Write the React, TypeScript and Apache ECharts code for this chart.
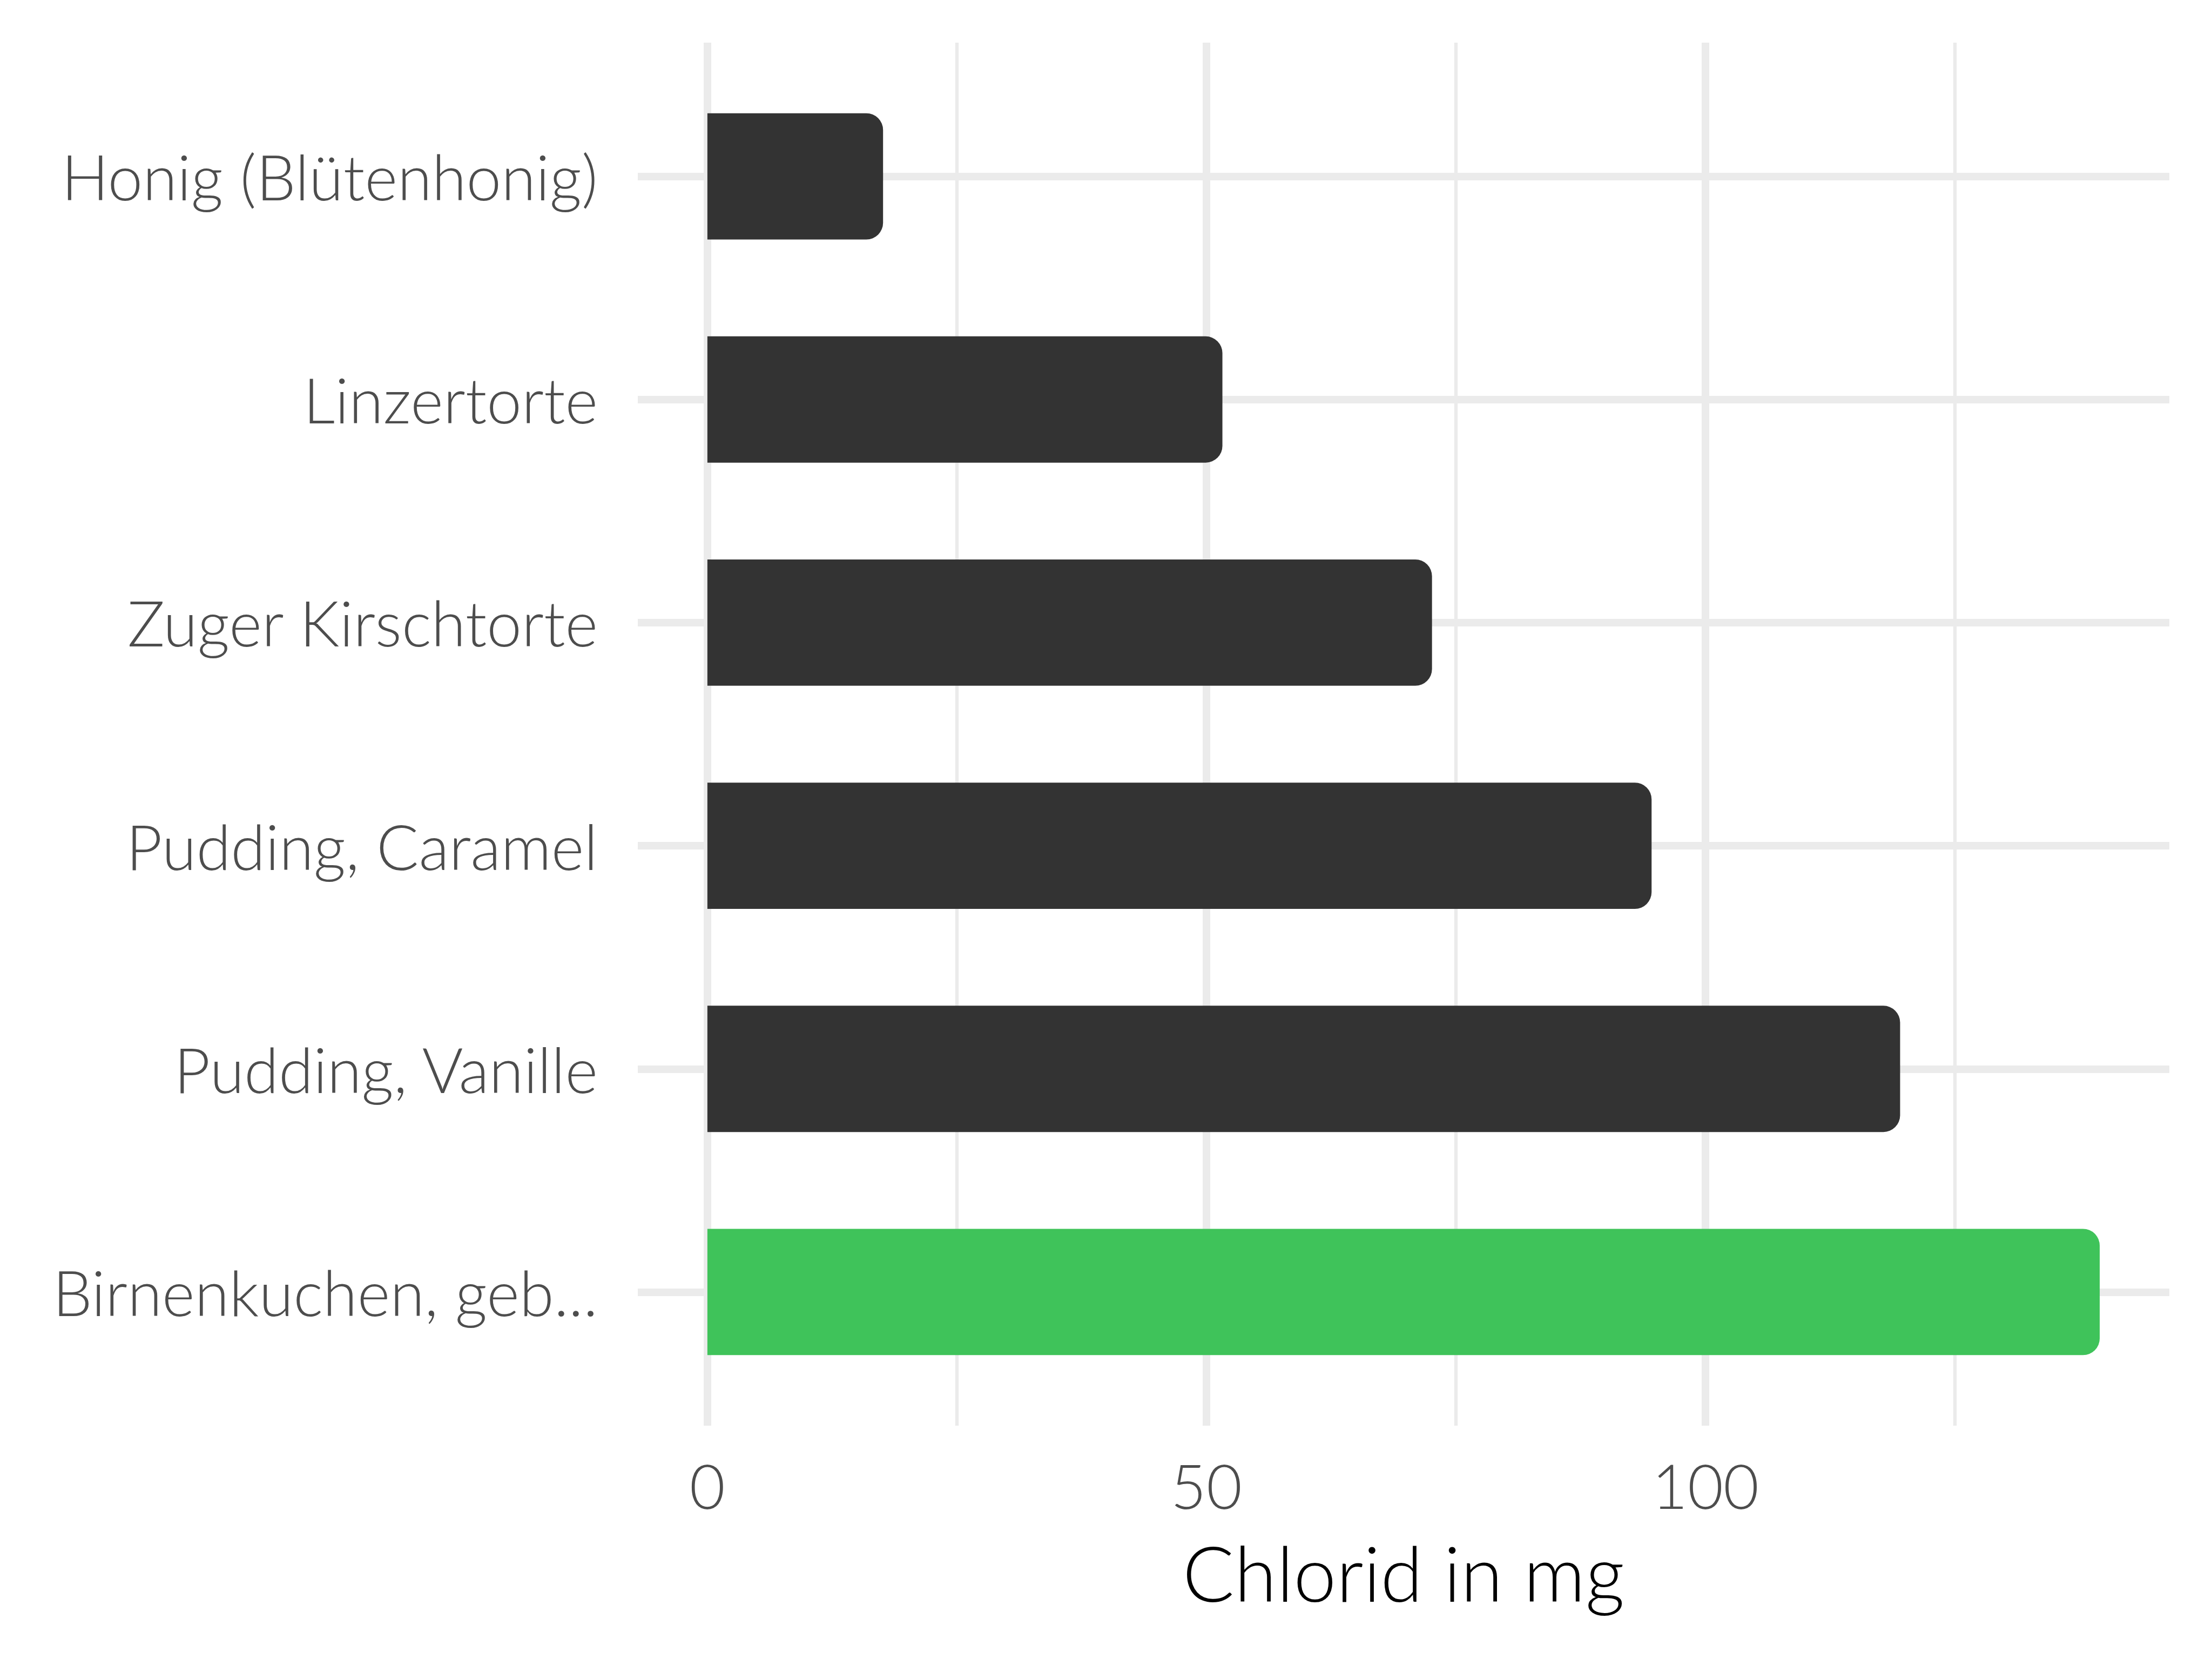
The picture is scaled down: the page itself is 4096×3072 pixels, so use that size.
import React, { useEffect, useRef } from "react";
import * as echarts from "echarts";

const categories = [
  "Honig (Blütenhonig)",
  "Linzertorte",
  "Zuger Kirschtorte",
  "Pudding, Caramel",
  "Pudding, Vanille",
  "Birnenkuchen, geb...",
];
const values = [17.6, 51.6, 72.6, 94.6, 119.5, 139.5];
const highlightIndex = 5;
const majorTicks = [0, 50, 100];
const minorTicks = [25, 75, 125];
const xMin = -6.975;
const xMax = 146.475;
const axisTitle = "Chlorid in mg";

const DARK = "#333333";
const GREEN = "#3fc35a";
const GRID = "#ebebeb";
const FONT = "Lato";

export default function App() {
  const ref = useRef<HTMLDivElement>(null);
  useEffect(() => {
    if (!ref.current) return;
    const chart = echarts.init(ref.current, null, { renderer: "svg" });
    const lineStyleMajor = { color: GRID, width: 14, type: "solid" as const };
    const lineStyleMinor = { color: GRID, width: 6.4, type: "solid" as const };
    const verticalLines = [
      ...minorTicks.map((v) => ({ xAxis: v, lineStyle: lineStyleMinor })),
      ...majorTicks.map((v) => ({ xAxis: v, lineStyle: lineStyleMajor })),
    ];
    const horizontalLines = categories.map((c) => ({ yAxis: c, lineStyle: lineStyleMajor }));
    chart.setOption({
      animation: false,
      backgroundColor: "#ffffff",
      grid: [
        { left: 1181, right: 79, top: 120, bottom: 473, containLabel: false },
        { left: 1181, right: 79, top: 79, bottom: 432, containLabel: false },
      ],
      xAxis: [
        {
          type: "value",
          gridIndex: 0,
          min: xMin,
          max: xMax,
          splitLine: { show: false },
          axisLine: { show: false },
          axisTick: { show: false },
          axisLabel: { show: false },
        },
        {
          type: "value",
          gridIndex: 1,
          min: xMin,
          max: xMax,
          splitLine: { show: false },
          axisLine: { show: false },
          axisTick: { show: false },
          axisLabel: {
            customValues: majorTicks,
            color: "#4d4d4d",
            fontFamily: FONT,
            fontWeight: 300,
            fontSize: 114,
            margin: 52,
          },
          name: axisTitle,
          nameLocation: "middle",
          nameGap: 200,
          nameTextStyle: { color: "#000000", fontFamily: FONT, fontWeight: 300, fontSize: 142 },
        },
      ],
      yAxis: [
        {
          type: "category",
          gridIndex: 0,
          data: categories,
          inverse: true,
          axisLine: { show: false },
          axisTick: { show: false },
          splitLine: { show: false },
          axisLabel: {
            color: "#4d4d4d",
            fontFamily: FONT,
            fontWeight: 300,
            fontSize: 116,
            margin: 74,
          },
        },
        {
          type: "value",
          gridIndex: 1,
          min: 0,
          max: 1,
          show: false,
          splitLine: { show: false },
        },
      ],
      series: [
        {
          type: "line",
          xAxisIndex: 1,
          yAxisIndex: 1,
          data: [],
          z: 1,
          silent: true,
          markLine: {
            silent: true,
            symbol: "none",
            label: { show: false },
            z: 1,
            data: verticalLines,
          },
        },
        {
          type: "line",
          xAxisIndex: 0,
          yAxisIndex: 0,
          data: [],
          z: 2,
          silent: true,
          markLine: {
            silent: true,
            symbol: "none",
            label: { show: false },
            z: 2,
            data: horizontalLines,
          },
        },
        {
          type: "bar",
          xAxisIndex: 0,
          yAxisIndex: 0,
          z: 5,
          barWidth: "56.6%",
          data: values.map((v, i) => ({
            value: v,
            itemStyle: {
              color: i === highlightIndex ? GREEN : DARK,
              borderRadius: [0, 31, 31, 0],
            },
          })),
        },
      ],
    });
    return () => chart.dispose();
  }, []);
  return (
    <div
      ref={ref}
      style={{ position: "absolute", left: 0, top: 0, width: 4096, height: 3072 }}
    />
  );
}
